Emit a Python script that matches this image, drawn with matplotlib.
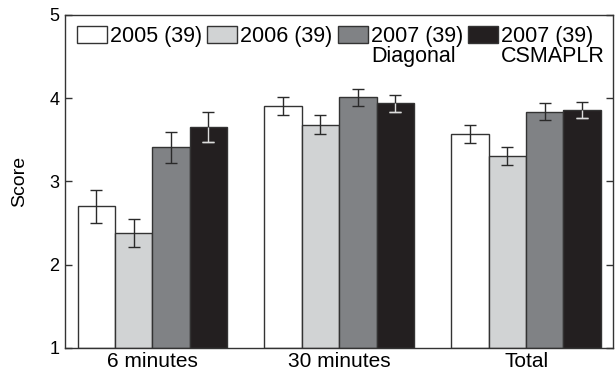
import matplotlib
matplotlib.use("Agg")
import matplotlib.pyplot as plt
import numpy as np

plt.rcParams['font.family'] = ['Liberation Sans', 'DejaVu Sans']

categories = ["6 minutes", "30 minutes", "Total"]
series_labels = ["2005 (39)", "2006 (39)", "2007 (39)", "2007 (39)"]
series_sublabels = ["", "", "Diagonal", "CSMAPLR"]
means = [
    [2.70, 3.91, 3.57],   # 2005
    [2.38, 3.68, 3.31],   # 2006
    [3.41, 4.01, 3.84],   # 2007 Diagonal
    [3.66, 3.94, 3.86],   # 2007 CSMAPLR
]
errors = [
    [0.20, 0.11, 0.11],
    [0.17, 0.115, 0.11],
    [0.19, 0.105, 0.10],
    [0.18, 0.105, 0.095],
]
colors = ["#ffffff", "#d1d3d4", "#808285", "#231f20"]
inner_err_colors = ["#2a2a2a", "#2a2a2a", "#2a2a2a", "#dcdcdc"]
yticks = [1, 2, 3, 4, 5]

fig = plt.figure(figsize=(6.15, 3.73), dpi=100)
ax = fig.add_axes([65/615, 25/373, 548/615, 333/373])

x = np.arange(1, len(categories) + 1)
width = 0.2
n = len(means)
handles = []
for i in range(n):
    pos = x + (i - (n - 1) / 2) * width
    vals = np.array(means[i])
    errs = np.array(errors[i])
    b = ax.bar(pos, vals - 1, bottom=1, width=width, color=colors[i],
               edgecolor="#333333", linewidth=1.0, zorder=2)
    handles.append(b)
    ax.errorbar(pos, vals, yerr=errs, fmt='none', ecolor="#2a2a2a",
                elinewidth=1.0, capsize=4.3, capthick=1.0, zorder=3)
    if inner_err_colors[i] != "#2a2a2a":
        ax.vlines(pos, vals - errs, vals, color=inner_err_colors[i], lw=1.0, zorder=4)
        ax.errorbar(pos, vals - errs, yerr=0, fmt='none', ecolor=inner_err_colors[i],
                    elinewidth=0, capsize=4.3, capthick=1.0, zorder=4)

ax.set_xlim(0.533, 3.465)
ax.set_ylim(1, 5)
ax.set_yticks(yticks)
ax.set_xticks(x)
ax.set_xticklabels(categories, fontsize=15)
ax.tick_params(axis='x', length=0, pad=3)
ax.tick_params(axis='y', direction='in', length=5, width=1.0, right=True,
               labelsize=13, pad=4, color="#333333")
for s in ax.spines.values():
    s.set_linewidth(1.0)
    s.set_color("#333333")
ax.set_ylabel("Score", fontsize=14)
ax.yaxis.set_label_coords(-0.0675, 0.5)

leg = ax.legend(handles, series_labels, loc='upper left', bbox_to_anchor=(0.022, 0.967),
                ncol=4, frameon=False, fontsize=15.5, handlelength=1.4, handleheight=0.84,
                handletextpad=0.14, columnspacing=0.23, borderpad=0, borderaxespad=0)
for p in leg.get_patches():
    p.set_edgecolor("#333333")
    p.set_linewidth(1.0)

fig.canvas.draw()
texts = leg.get_texts()
for t, sub in zip(texts, series_sublabels):
    if sub:
        ax.annotate(sub, xy=(0, 0), xycoords=t, xytext=(0, -10.8),
                    textcoords='offset points', ha='left', va='baseline',
                    fontsize=15.5, zorder=10)

fig.savefig("out.png", dpi=100)
